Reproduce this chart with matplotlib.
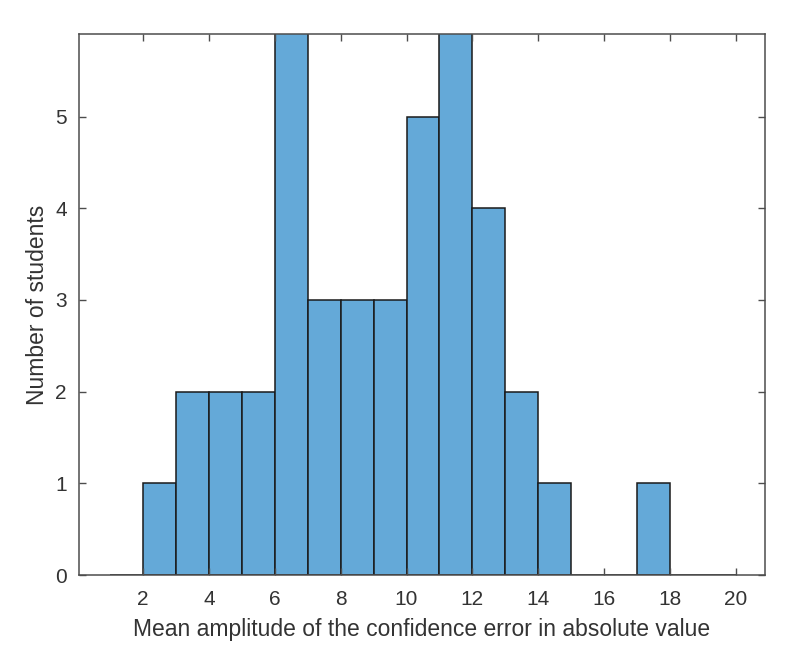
import matplotlib
matplotlib.use("Agg")
import matplotlib.pyplot as plt
import numpy as np

# histogram bins (edges 1..20) and counts
bin_edges = np.arange(1, 21)
counts = [0, 1, 2, 2, 2, 6, 3, 3, 3, 5, 6, 4, 2, 1, 0, 0, 1, 0, 0]
xticks = [2, 4, 6, 8, 10, 12, 14, 16, 18, 20]
yticks = [0, 1, 2, 3, 4, 5]

plt.rcParams['font.family'] = ['Liberation Sans', 'DejaVu Sans']
axcol = '#4d4d4d'

fig = plt.figure(figsize=(8, 6.69), dpi=100)
ax = fig.add_axes([0.099, 0.1405, 0.857, 0.8085])

ax.bar(bin_edges[:-1], counts, width=1, align='edge', color='#64a9d8',
       edgecolor='#1a1a1a', linewidth=1.1)

ax.set_xlim(0.06, 20.88)
ax.set_ylim(0, 5.9)
ax.set_xticks(xticks)
ax.set_yticks(yticks)
ax.tick_params(direction='in', top=True, right=True, length=5, width=1,
               colors=axcol, labelsize=15, labelcolor='#333333')
ax.tick_params(axis='x', pad=11)
ax.tick_params(axis='y', pad=9)
for s in ax.spines.values():
    s.set_color(axcol)
    s.set_linewidth(1.1)

ax.set_xlabel('Mean amplitude of the confidence error in absolute value',
              fontsize=16.5, color='#333333', labelpad=6)
ax.set_ylabel('Number of students', fontsize=16.5, color='#333333', labelpad=4)

plt.savefig('out.png', dpi=100)
